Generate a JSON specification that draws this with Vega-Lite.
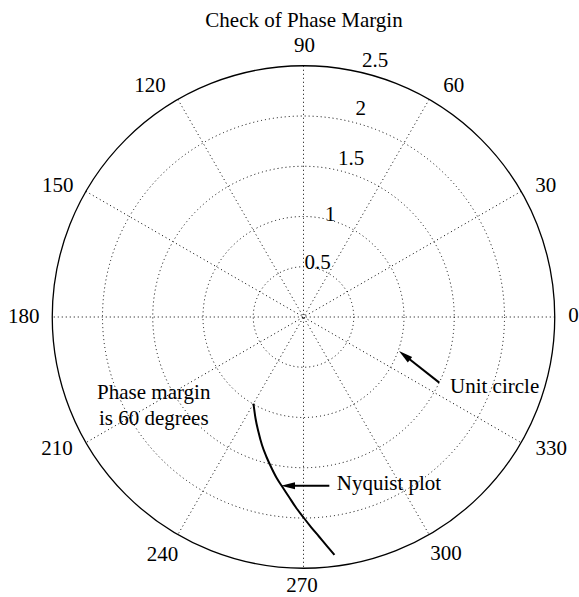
{
  "$schema": "https://vega.github.io/schema/vega-lite/v6.json",
  "width": 502.5,
  "height": 502.5,
  "autosize": {"type": "none"},
  "padding": {"left": 52.25, "top": 65.75, "right": 24.25, "bottom": 28.75},
  "background": "white",
  "config": {
    "view": {"stroke": null},
    "text": {"font": "Liberation Serif", "fontSize": 21, "color": "black"}
  },
  "datasets": {
    "rings": [{"r": 0.5, "x": 0, "y": 0}, {"r": 1, "x": 0, "y": 0}, {"r": 1.5, "x": 0, "y": 0}, {"r": 2, "x": 0, "y": 0}],
    "outer": [{"r": 2.5, "x": 0, "y": 0}],
    "spokes": [
      {"x": 2.5, "y": 0, "x2": -2.5, "y2": 0},
      {"x": 2.165, "y": 1.25, "x2": -2.165, "y2": -1.25},
      {"x": 1.25, "y": 2.165, "x2": -1.25, "y2": -2.165},
      {"x": 0, "y": 2.5, "x2": 0, "y2": -2.5},
      {"x": -1.25, "y": 2.165, "x2": 1.25, "y2": -2.165},
      {"x": -2.165, "y": 1.25, "x2": 2.165, "y2": -1.25}
    ],
    "nyquist": [
      {"i": 0, "x": -0.498, "y": -0.861},
      {"i": 1, "x": -0.478, "y": -1.005},
      {"i": 2, "x": -0.448, "y": -1.144},
      {"i": 3, "x": -0.413, "y": -1.274},
      {"i": 4, "x": -0.368, "y": -1.393},
      {"i": 5, "x": -0.318, "y": -1.502},
      {"i": 6, "x": -0.264, "y": -1.607},
      {"i": 7, "x": -0.219, "y": -1.677},
      {"i": 8, "x": -0.144, "y": -1.791},
      {"i": 9, "x": -0.075, "y": -1.896},
      {"i": 10, "x": 0.0, "y": -1.995},
      {"i": 11, "x": 0.075, "y": -2.09},
      {"i": 12, "x": 0.154, "y": -2.184},
      {"i": 13, "x": 0.234, "y": -2.279},
      {"i": 14, "x": 0.308, "y": -2.368}
    ],
    "angleLabels": [
      {"label": "0", "x": 2.687, "y": 0.01},
      {"label": "30", "x": 2.411, "y": 1.305},
      {"label": "60", "x": 1.496, "y": 2.296},
      {"label": "90", "x": 0.01, "y": 2.694},
      {"label": "120", "x": -1.527, "y": 2.296},
      {"label": "150", "x": -2.446, "y": 1.308},
      {"label": "180", "x": -2.783, "y": -0.003},
      {"label": "210", "x": -2.453, "y": -1.313},
      {"label": "240", "x": -1.403, "y": -2.373},
      {"label": "270", "x": -0.015, "y": -2.675},
      {"label": "300", "x": 1.418, "y": -2.358},
      {"label": "330", "x": 2.466, "y": -1.313}
    ],
    "ringLabels": [
      {"label": "0.5", "x": 0.01, "y": 0.478},
      {"label": "1", "x": 0.214, "y": 0.958},
      {"label": "1.5", "x": 0.343, "y": 1.512},
      {"label": "2", "x": 0.517, "y": 2.01},
      {"label": "2.5", "x": 0.582, "y": 2.49}
    ],
    "notesLeft": [
      {"label": "Unit circle", "x": 1.458, "y": -0.759},
      {"label": "Nyquist plot", "x": 0.331, "y": -1.723}
    ],
    "notesCenter": [
      {"label": "Check of Phase Margin", "x": 0.005, "y": 2.889},
      {"label": "Phase margin", "x": -1.49, "y": -0.819},
      {"label": "is 60 degrees", "x": -1.49, "y": -1.07}
    ],
    "shafts": [
      {"x": 0.257, "y": -1.679, "x2": -0.154, "y2": -1.679},
      {"x": 1.351, "y": -0.653, "x2": 1.005, "y2": -0.381}
    ],
    "headLeft": [{"x": -0.224, "y": -1.679}],
    "headDiag": [{"x": 0.95, "y": -0.338}]
  },
  "encoding": {
    "x": {"field": "x", "type": "quantitative", "scale": {"domain": [-2.5, 2.5], "nice": false, "zero": false}, "axis": null},
    "y": {"field": "y", "type": "quantitative", "scale": {"domain": [-2.5, 2.5], "nice": false, "zero": false}, "axis": null}
  },
  "layer": [
    {
      "data": {"name": "rings"},
      "mark": {"type": "point", "shape": "circle", "filled": false, "stroke": "black", "strokeWidth": 1, "strokeDash": [1, 3], "opacity": 1},
      "encoding": {
        "size": {"field": "r", "type": "quantitative", "scale": {"type": "pow", "exponent": 2, "domain": [0, 2.5], "range": [0, 252506.25]}, "legend": null}
      }
    },
    {
      "data": {"name": "spokes"},
      "mark": {"type": "rule", "stroke": "black", "strokeWidth": 1, "strokeDash": [1, 3]},
      "encoding": {
        "x2": {"field": "x2"},
        "y2": {"field": "y2"}
      }
    },
    {
      "data": {"name": "outer"},
      "mark": {"type": "point", "shape": "circle", "filled": false, "stroke": "black", "strokeWidth": 1.3, "opacity": 1},
      "encoding": {
        "size": {"field": "r", "type": "quantitative", "scale": {"type": "pow", "exponent": 2, "domain": [0, 2.5], "range": [0, 252506.25]}, "legend": null}
      }
    },
    {
      "data": {"name": "nyquist"},
      "mark": {"type": "line", "stroke": "black", "strokeWidth": 2, "interpolate": "monotone"},
      "encoding": {"order": {"field": "i", "type": "quantitative"}}
    },
    {
      "data": {"name": "shafts"},
      "mark": {"type": "rule", "stroke": "black", "strokeWidth": 2},
      "encoding": {
        "x2": {"field": "x2"},
        "y2": {"field": "y2"}
      }
    },
    {
      "data": {"name": "headLeft"},
      "mark": {"type": "point", "shape": "M0,0L2,-0.5L2,0.5Z", "size": 196, "filled": true, "color": "black", "opacity": 1, "strokeWidth": 0, "angle": 0}
    },
    {
      "data": {"name": "headDiag"},
      "mark": {"type": "point", "shape": "M0,0L2,-0.5L2,0.5Z", "size": 196, "filled": true, "color": "black", "opacity": 1, "strokeWidth": 0, "angle": 38.2}
    },
    {
      "data": {"name": "angleLabels"},
      "mark": {"type": "text", "align": "center", "baseline": "middle"},
      "encoding": {"text": {"field": "label"}}
    },
    {
      "data": {"name": "ringLabels"},
      "mark": {"type": "text", "align": "left", "baseline": "alphabetic"},
      "encoding": {"text": {"field": "label"}}
    },
    {
      "data": {"name": "notesLeft"},
      "mark": {"type": "text", "align": "left", "baseline": "alphabetic"},
      "encoding": {"text": {"field": "label"}}
    },
    {
      "data": {"name": "notesCenter"},
      "mark": {"type": "text", "align": "center", "baseline": "alphabetic"},
      "encoding": {"text": {"field": "label"}}
    }
  ]
}
